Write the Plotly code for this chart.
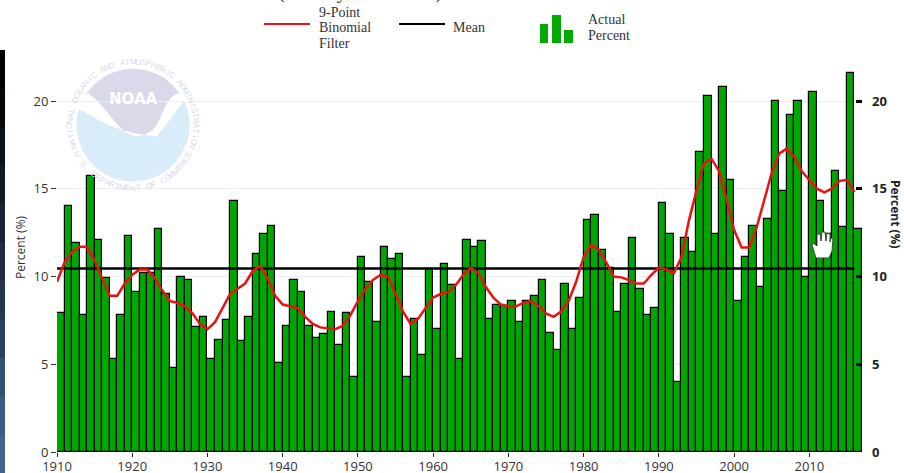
import math
import plotly.graph_objects as go

years = list(range(1910, 2017))
percent = [7.9,14.0,11.9,7.8,15.7,12.1,9.9,5.3,7.8,12.3,
           9.1,10.2,10.2,12.7,9.0,4.8,10.0,9.8,7.1,7.7,
           5.3,6.4,7.5,14.3,6.3,7.7,11.3,12.4,12.9,5.1,
           7.2,9.8,9.1,7.2,6.5,6.7,8.0,6.1,7.9,4.3,
           11.1,9.7,7.4,11.7,11.0,11.3,4.3,7.6,5.5,10.4,
           7.0,10.7,9.5,5.3,12.1,11.7,12.0,7.6,8.4,8.3,
           8.6,7.4,8.6,8.9,9.8,6.8,5.8,9.6,7.0,8.8,
           13.2,13.5,11.5,10.5,8.0,9.6,12.2,9.3,7.8,8.2,
           14.2,12.4,4.0,12.2,11.4,17.1,20.3,12.4,20.8,15.5,
           8.6,11.1,12.9,9.4,13.3,20.0,14.9,19.2,20.0,10.0,
           20.5,14.3,12.4,16.0,12.8,21.6,12.7]
binomial = [9.7,10.8,11.4,11.7,11.7,10.9,9.9,8.9,8.9,9.6,
            10.1,10.4,10.4,9.9,9.2,8.6,8.5,8.3,7.9,7.3,
            7.0,7.4,8.2,9.0,9.3,9.6,10.3,10.6,9.9,8.9,
            8.4,8.3,8.2,7.7,7.3,7.1,7.05,7.0,7.2,7.8,
            8.6,9.3,9.8,10.1,10.0,9.0,8.0,7.3,7.6,8.2,
            8.8,9.0,9.1,9.5,10.1,10.5,10.2,9.4,8.8,8.4,
            8.3,8.3,8.5,8.6,8.3,7.9,7.7,8.0,8.6,9.7,
            11.1,11.8,11.5,10.8,10.0,9.95,9.8,9.6,9.6,10.1,
            10.5,10.4,10.2,11.1,13.2,14.9,16.45,16.7,16.0,14.4,
            12.65,11.65,11.65,12.8,14.4,15.9,17.0,17.3,16.8,16.0,
            15.5,15.0,14.8,15.0,15.45,15.5,14.8]
mean_value = 10.46
x_ticks = list(range(1910, 2011, 10))
y_ticks = [0, 5, 10, 15, 20]

L, R, T, B = 57, 862, 60, 452
W, H = 904, 473
def px(x): return (x - L) / (R - L)
def py(y): return (B - y) / (B - T)

def path(pts):
    out = []
    for p in pts:
        if isinstance(p, str):
            out.append(p)
        else:
            out.append(f"{px(p[0]):.5f},{py(p[1]):.5f}")
    return " ".join(out)

def z(x, y):  # logo coordinates taken from a 3x crop
    return (x / 3, y / 3)

shapes, notes = [], []
def shape(kind, **kw):
    shapes.append(dict(type=kind, xref="paper", yref="paper", **kw))
def text(s, x, y, size=14, color="#333333", family="Liberation Serif", anchor="left", angle=0):
    notes.append(dict(text=s, x=px(x), y=py(y), xref="paper", yref="paper", showarrow=False,
                      xanchor=anchor, yanchor="middle", textangle=angle, borderpad=0, borderwidth=0,
                      font=dict(size=size, color=color, family=family)))

# dark strip at the left edge
strip = ["#000000","#05070c","#0b1119","#111a27","#172335","#1d2c43","#243652","#2b4062","#325071","#3b5b85","#41648f"]
for i, c in enumerate(strip):
    y0 = 50 + i * (473 - 50) / len(strip)
    shape("rect", x0=px(0), x1=px(5), y0=py(y0), y1=py(y0 + (473 - 50) / len(strip) + 1),
          fillcolor=c, line_width=0, layer="above")

# logo
cx, cy, r = 133, 125, 56.5
shape("circle", x0=px(cx-r), x1=px(cx+r), y0=py(cy+r), y1=py(cy-r), fillcolor="#d9ecf9", line_width=0, layer="below")
shape("path", path="M " + path([z(265,280)]) + " C " + path([z(300,225), z(360,208), z(400,208)]) + " C " + path([z(440,208), z(500,225), z(535,280)])
      + " C " + path([z(500,290), z(490,340), z(470,375)]) + " C " + path([z(450,405), z(420,410), z(405,408)])
      + " C " + path([z(360,405), z(320,320), z(265,280)]) + " Z",
      fillcolor="#d9d9e9", line_width=0, layer="below")
shape("path", path="M " + path([z(228,300)]) + " L " + path([z(265,280)]) + " C " + path([z(320,320), z(360,405), z(405,408)])
      + " C " + path([z(420,410), z(450,405), z(470,375)]) + " C " + path([z(490,340), z(500,290), z(535,280)])
      + " L " + path([z(565,290), z(555,305)]) + " C " + path([z(525,330), z(500,380), z(472,405)])
      + " L " + path([z(478,410), z(350,447), z(400,420), z(375,415)]) + " C " + path([z(320,395), z(280,345), z(240,330)])
      + " L " + path([z(230,332)]) + " Z",
      fillcolor="#ffffff", line_width=0, layer="below")
text("<b>NOAA</b>", 133, 99, size=15, color="#ffffff", family="DejaVu Sans", anchor="center")

ring_r = 63
top_ring = "NATIONAL OCEANIC AND ATMOSPHERIC ADMINISTRATION"
for i, ch in enumerate(top_ring):
    a = -110 + 220 * i / (len(top_ring) - 1)
    text(ch, cx + ring_r * math.sin(math.radians(a)), cy - ring_r * math.cos(math.radians(a)),
         size=8, color="#d6d9ea", family="Liberation Sans", anchor="center", angle=a)
bottom_ring = "U.S. DEPARTMENT OF COMMERCE"
for i, ch in enumerate(bottom_ring):
    a = -62 + 124 * i / (len(bottom_ring) - 1)
    text(ch, cx - ring_r * math.sin(math.radians(-a)), cy + ring_r * math.cos(math.radians(a)),
         size=8, color="#d6d9ea", family="Liberation Sans", anchor="center", angle=-a)

# legend and the title clipped by the top edge
text("(January-December)", 360, -9, size=20, anchor="center")
shape("line", x0=px(264), x1=px(310), y0=py(24), y1=py(24), line=dict(color="#ee1111", width=2))
text("9-Point", 319, 12); text("Binomial", 319, 27); text("Filter", 319, 43)
shape("line", x0=px(399), x1=px(445), y0=py(24), y1=py(24), line=dict(color="#000000", width=2))
text("Mean", 453, 27)
for x0, x1, y0 in [(540, 548, 24), (552, 561, 15), (564, 573, 30)]:
    shape("rect", x0=px(x0), x1=px(x1), y0=py(43), y1=py(y0), fillcolor="#00aa00", line_width=0)
text("Actual", 588, 19); text("Percent", 588, 35)

# axis titles
text("Percent (%)", 20, 247, size=12, color="#333333", family="Open Sans", anchor="center", angle=-90)
text("<b>Percent (%)</b>", 896, 214, size=12, color="#222222", family="Open Sans", anchor="center", angle=90)

# pointer captured in the screenshot
hand = [(816,258),(812,245),(813,243),(817,246),(817,234),(820,234),(821,241),(822,232),(825,232),(826,241),
        (827,233),(830,234),(830,242),(831,238),(833,239),(832,251),(829,258)]
shape("path", path="M " + " L ".join(path([p]) for p in hand) + " Z", fillcolor="#ffffff",
      line=dict(color="#444444", width=1), layer="above")

fig = go.Figure()
fig.add_bar(x=[y + 0.5 for y in years], y=percent, width=1,
            marker=dict(color="#00a600", line=dict(color="#000000", width=1.2)), name="Actual Percent")
fig.add_scatter(x=years, y=[mean_value] * len(years), mode="lines", line=dict(color="#000000", width=2.5), name="Mean")
fig.add_scatter(x=years, y=binomial, mode="lines", line=dict(color="#ee1111", width=2.5),
                name="9-Point Binomial Filter")
# right-hand axis carries its own ticks
fig.add_scatter(x=years, y=percent, yaxis="y2", mode="lines", line=dict(width=0), opacity=0, showlegend=False, hoverinfo="skip")

ymax = (B - T) / 17.55
fig.update_layout(
    width=W, height=H, autosize=False, showlegend=False, plot_bgcolor="#ffffff", paper_bgcolor="#ffffff",
    margin=dict(l=L, r=W - R, t=T, b=H - B, pad=0, autoexpand=False), shapes=shapes, annotations=notes, bargap=0,
    font=dict(family="Open Sans", size=12, color="#333333"),
    xaxis=dict(range=[1910, 2017], tickmode="array", tickvals=x_ticks, ticks="outside", ticklen=4, tickcolor="#222222",
               showgrid=False, zeroline=False, showline=False, automargin=False, ticklabelstandoff=-2, tickfont=dict(size=13)),
    yaxis=dict(range=[0, ymax], tickmode="array", tickvals=y_ticks, ticks="outside", ticklen=5, tickcolor="#333333",
               showgrid=True, gridcolor="#eeeeee", zeroline=False, showline=False, automargin=False, tickfont=dict(size=13)),
    yaxis2=dict(range=[0, ymax], overlaying="y", side="right", tickmode="array", tickvals=y_ticks, ticks="inside", ticklen=6,
                tickwidth=2.5, tickcolor="#000000", showgrid=False, zeroline=False, showline=False, ticklabelstandoff=9,
                automargin=False, tickfont=dict(size=13, color="#222222", family="Open Sans", weight="bold")),
)
fig.write_html("out.html", config={"displayModeBar": False}, post_script="document.body.style.margin='0';")
